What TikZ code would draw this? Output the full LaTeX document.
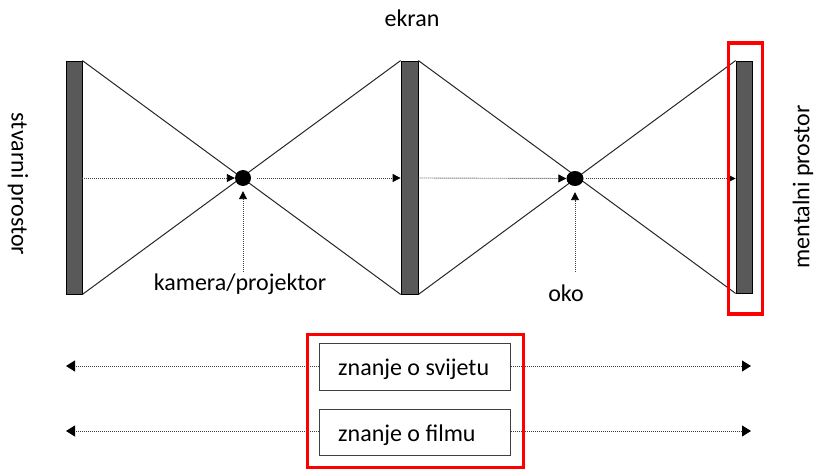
\documentclass[tikz,border=0pt]{standalone}
\usepackage{fontspec}
\setmainfont{Carlito}
\usetikzlibrary{arrows.meta,shapes.geometric}
\begin{document}
\begin{tikzpicture}[x=1pt,y=-1pt,
  bar/.style={draw=black,line width=0.8pt,fill=black!65},
  ray/.style={draw=black!85,line width=1pt},
  dotarrow/.style={draw=black!75,line width=0.9pt,dash pattern=on 1pt off 1pt,-{Triangle[length=8pt,width=8pt,fill=black,color=black]}},
  bigarrow/.style={draw=black!75,line width=0.9pt,dash pattern=on 1pt off 1pt,-{Triangle[length=9pt,width=11pt,fill=black,color=black]}},
  lbl/.style={font=\fontsize{24}{28}\selectfont,text=black,inner sep=0pt},
  knowbox/.style={draw=black!75,line width=1pt,minimum width=191pt,minimum height=46pt,inner sep=0pt},
  redbox/.style={draw=red,line width=3.5pt}
]
\useasboundingbox (0,0) rectangle (814,470);
% bars
\node[bar,minimum width=16pt,minimum height=233pt,inner sep=0pt] (b1) at (74,177.5) {};
\node[bar,minimum width=17pt,minimum height=233pt,inner sep=0pt] (b2) at (409.5,177.5) {};
\node[bar,minimum width=16pt,minimum height=232pt,inner sep=0pt] (b3) at (744,177) {};
% rays
\draw[ray] (b1.north east) -- (b2.south west);
\draw[ray] (b1.south east) -- (b2.north west);
\draw[ray] (b2.north east) -- (b3.south west);
\draw[ray] (b2.south east) -- (b3.north west);
% dots
\node[circle,fill=black,minimum size=16pt,inner sep=0pt] (d1) at (243,178) {};
\node[ellipse,fill=black,minimum width=17pt,minimum height=15pt,inner sep=0pt] (d2) at (575,178.5) {};
% horizontal dotted arrows
\draw[dotarrow] (b1.east |- d1) -- (d1.west);
\draw[dotarrow] ([xshift=6pt]d1.east) -- (b2.west |- d1);
\draw[dotarrow] (b2.east |- d1) -- (d2.west);
\draw[dotarrow] ([xshift=2pt]d2.east) -- (b3.west |- d2);
% labels
\node[lbl,anchor=base] (kam) at (240,291) {kamera/projektor};
\node[lbl,anchor=base] (oko) at (566,302) {oko};
\node[lbl,anchor=base] (ekran) at (412,27) {ekran};
\node[lbl,rotate=-90] (stv) at (18,184) {stvarni prostor};
\node[lbl,rotate=90] (men) at (803,187) {mentalni prostor};
% vertical dotted arrows
\coordinate (v1) at (243,272);
\coordinate (v2) at (575,272);
\draw[dotarrow] (v1) -- ([yshift=-5pt]d1.south);
\draw[dotarrow] (v2) -- ([yshift=-6pt]d2.south);
% red box around mental space
\draw[redbox] (728.5,43) rectangle (762.5,314);
% knowledge boxes
\node[knowbox] (k1) at (414.5,367) {};
\node[knowbox] (k2) at (414.5,432.5) {};
\node[lbl,anchor=base west] (t1) at (338,375) {znanje o svijetu};
\node[lbl,anchor=base west] (t2) at (338,441) {znanje o filmu};
\coordinate (l1) at (66,366);
\coordinate (r1) at (751,366);
\coordinate (l2) at (66,431);
\coordinate (r2) at (751,431);
\draw[bigarrow] (k1.west |- l1) -- (l1);
\draw[bigarrow] (k1.east |- r1) -- (r1);
\draw[bigarrow] (k2.west |- l2) -- (l2);
\draw[bigarrow] (k2.east |- r2) -- (r2);
\draw[redbox] (307.5,334.5) rectangle (523.5,467.5);
\end{tikzpicture}
\end{document}
